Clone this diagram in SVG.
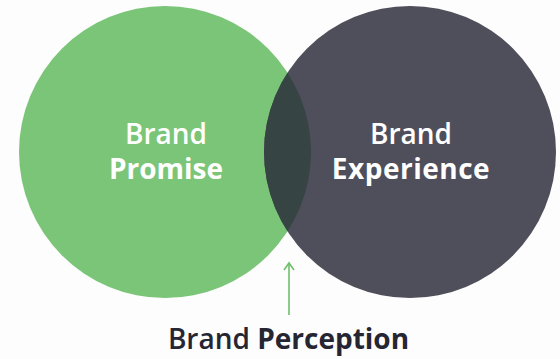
<svg xmlns="http://www.w3.org/2000/svg" width="560" height="359" viewBox="0 0 560 359">
  <style>
    .lbl { font-family: "Open Sans", Lato, "Liberation Sans", sans-serif; font-size: 28px; text-anchor: middle; }
    .in { fill: #ffffff; }
    .out { fill: #262633; }
    .reg { font-weight: 600; }
    .bold { font-weight: 700; }
  </style>
  <defs>
    <clipPath id="clipPromise">
      <circle cx="165" cy="152" r="146"/>
    </clipPath>
    <marker id="chevron" viewBox="0 0 12 12" refX="10" refY="6" markerWidth="12" markerHeight="12" markerUnits="userSpaceOnUse" orient="auto">
      <path d="M3 1 L10 6 L3 11" fill="none" stroke="#6fbf6c" stroke-width="1.6"/>
    </marker>
  </defs>
  <rect width="560" height="359" fill="#fdfdfd"/>

  <g id="promise">
    <circle cx="165" cy="152" r="146" fill="#7bc578"/>
  </g>
  <g id="experience">
    <circle cx="410" cy="152" r="146" fill="#4f4f5b"/>
  </g>
  <g id="overlap">
    <circle cx="410" cy="152" r="146" fill="#364444" clip-path="url(#clipPromise)"/>
  </g>

  <g id="promise-label">
    <text class="lbl in reg" x="166" y="144">Brand</text>
    <text class="lbl in bold" x="166" y="179">Promise</text>
  </g>
  <g id="experience-label">
    <text class="lbl in reg" x="411" y="144">Brand</text>
    <text class="lbl in bold" x="411" y="179" letter-spacing="0.5">Experience</text>
  </g>

  <g id="connectors">
    <line x1="289" y1="315" x2="289" y2="263" stroke="#6fbf6c" stroke-width="1.6" marker-end="url(#chevron)"/>
  </g>

  <g id="perception">
    <text class="lbl out" x="288.5" y="349"><tspan class="reg">Brand </tspan><tspan class="bold">Perception</tspan></text>
  </g>
</svg>
